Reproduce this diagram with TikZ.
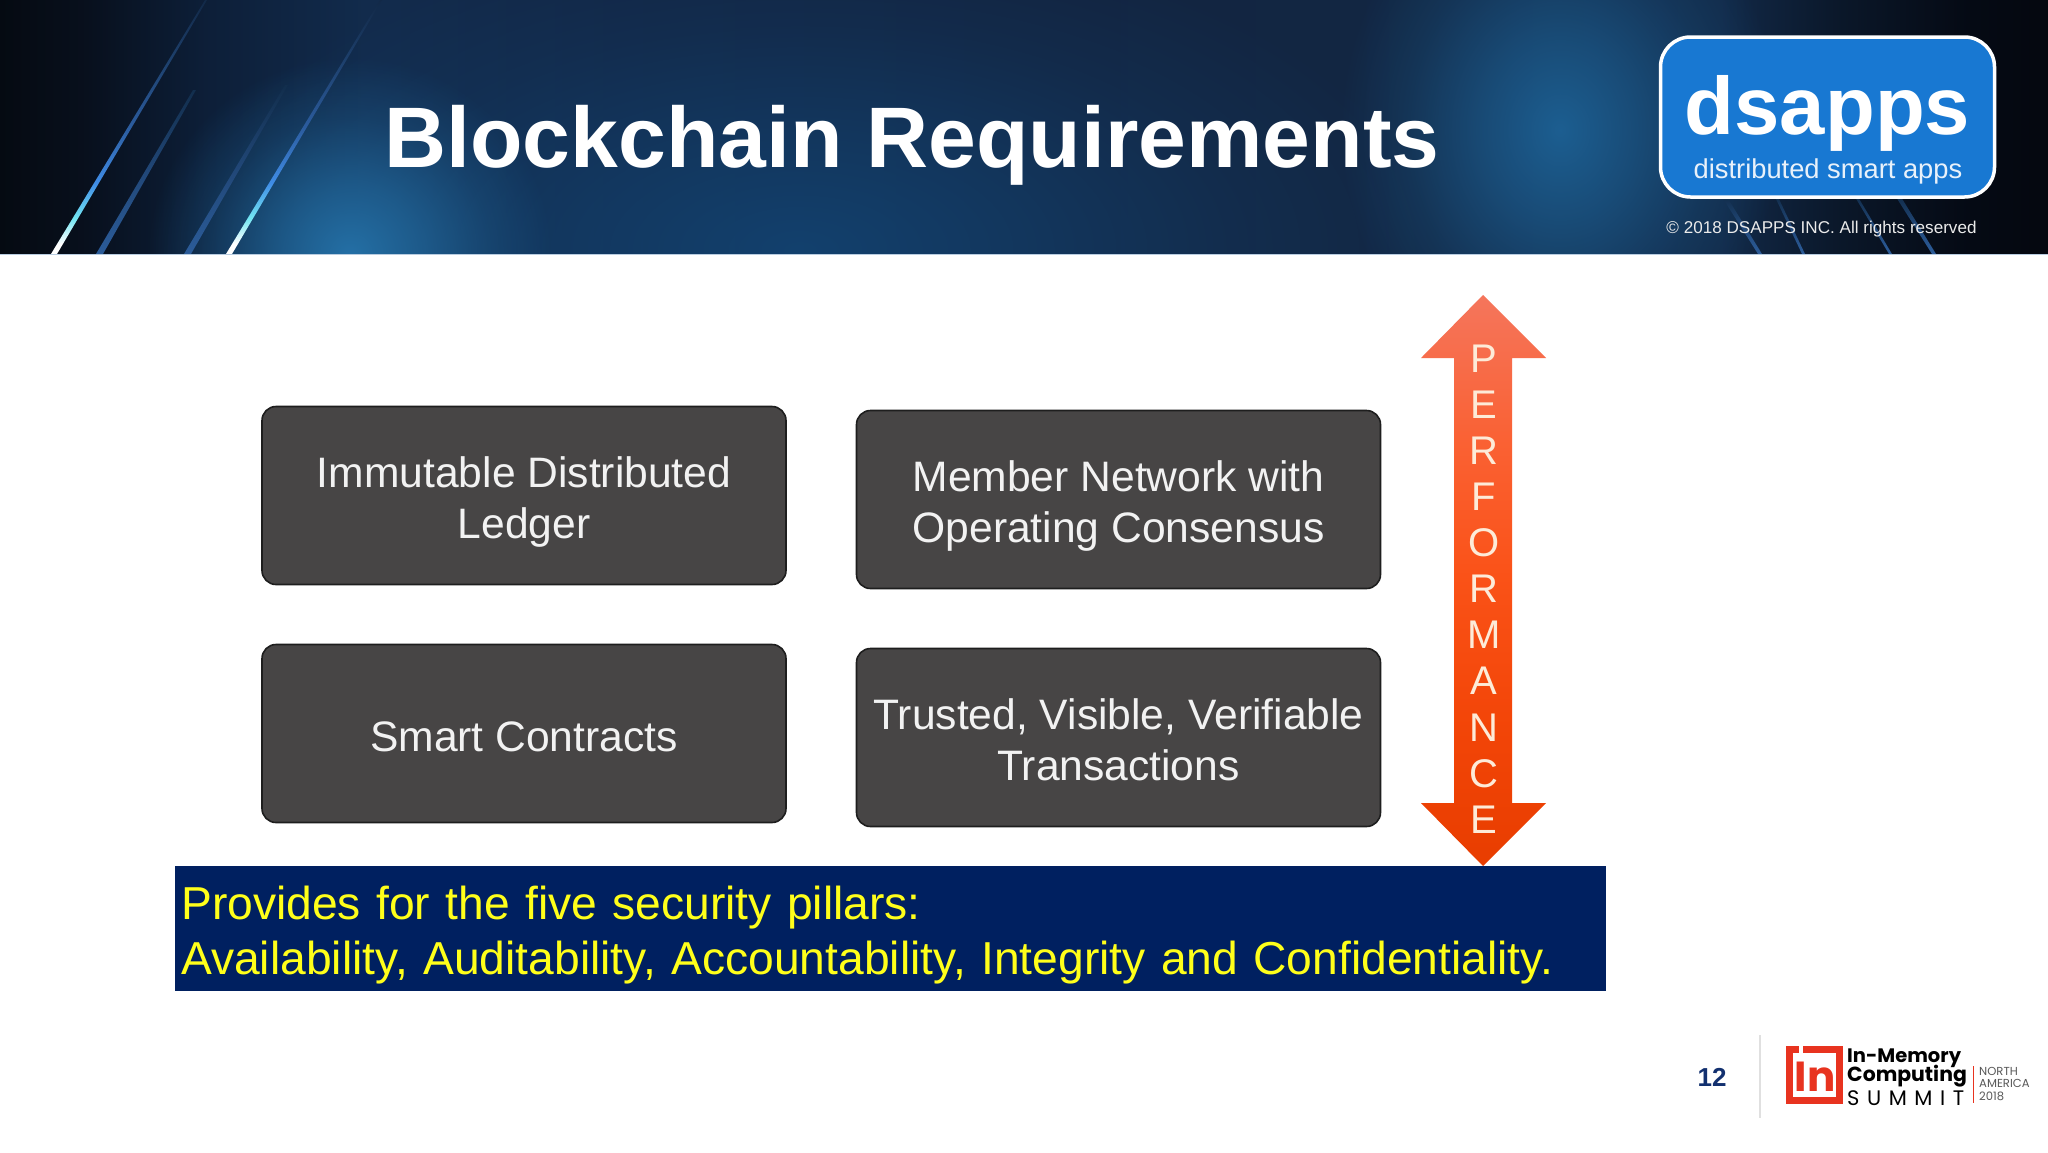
\documentclass[tikz,border=0pt]{standalone}
\usepackage{fontspec}
\usetikzlibrary{fadings,shadings}
\setmainfont{Liberation Sans}
\newfontfamily\popfont{Poppins}
\definecolor{boxfill}{HTML}{474545}
\definecolor{boxline}{HTML}{1E1E1E}
\definecolor{boxtext}{HTML}{F2F2F2}
\definecolor{bannerblue}{HTML}{002060}
\definecolor{banneryellow}{HTML}{FFFF1A}
\definecolor{logoblue}{HTML}{1878D2}
\definecolor{navy}{HTML}{12306F}
\definecolor{inred}{HTML}{E8331F}
\definecolor{glowa}{HTML}{2470A6}
\definecolor{glowb}{HTML}{1F6CA4}
\definecolor{glowc}{HTML}{124A7C}
\definecolor{hdrline}{HTML}{B8CCE0}
\definecolor{arrowtext}{HTML}{FDEBD8}
% the path's box is mapped on the central 25bp..75bp of a shading
\pgfdeclarehorizontalshading{hdrbasetwo}{100bp}{
 rgb(0bp)=(0.02,0.04,0.07);
 rgb(25bp)=(0.02,0.04,0.07);
 rgb(27bp)=(0.03,0.06,0.11);
 rgb(30bp)=(0.05,0.12,0.22);
 rgb(34bp)=(0.07,0.17,0.30);
 rgb(40bp)=(0.07,0.15,0.27);
 rgb(50bp)=(0.07,0.14,0.25);
 rgb(58bp)=(0.07,0.15,0.26);
 rgb(67bp)=(0.07,0.16,0.28);
 rgb(70bp)=(0.04,0.09,0.16);
 rgb(73bp)=(0.02,0.04,0.08);
 rgb(75bp)=(0.02,0.03,0.06);
 rgb(100bp)=(0.02,0.03,0.06)}
\pgfdeclareverticalshading{stripebright}{100bp}{
 rgb(0bp)=(1,1,1);
 rgb(27bp)=(1,1,1);
 rgb(32bp)=(0.45,0.9,0.95);
 rgb(39bp)=(0.25,0.55,0.9);
 rgb(50bp)=(0.17,0.36,0.62);
 rgb(62bp)=(0.12,0.26,0.44);
 rgb(75bp)=(0.07,0.16,0.28);
 rgb(100bp)=(0.07,0.16,0.28)}
\pgfdeclareverticalshading{stripedim}{100bp}{
 rgb(0bp)=(0.17,0.36,0.60);
 rgb(25bp)=(0.17,0.36,0.60);
 rgb(50bp)=(0.13,0.28,0.47);
 rgb(75bp)=(0.07,0.18,0.30);
 rgb(100bp)=(0.07,0.18,0.30)}
\pgfdeclareverticalshading{arrowgrad}{100bp}{
 rgb(0bp)=(0.91,0.24,0.0);
 rgb(25bp)=(0.91,0.24,0.0);
 rgb(37bp)=(0.95,0.27,0.03);
 rgb(50bp)=(0.98,0.32,0.09);
 rgb(62bp)=(0.98,0.38,0.20);
 rgb(75bp)=(0.96,0.46,0.36);
 rgb(100bp)=(0.96,0.46,0.36)}
\pgfdeclareradialshading{glowfadeshade}{\pgfpointorigin}{
 color(0bp)=(pgftransparent!0);
 color(8bp)=(pgftransparent!35);
 color(16bp)=(pgftransparent!75);
 color(23bp)=(pgftransparent!100);
 color(50bp)=(pgftransparent!100)}
\pgfdeclarefading{glowfade}{\pgfuseshading{glowfadeshade}}
\tikzset{
 x=1pt,y=-1pt,
 reqbox/.style={draw=boxline,line width=1.6pt,fill=boxfill,rounded corners=14pt,
   minimum width=524pt,minimum height=178pt,text=boxtext,align=center,inner sep=0pt,
   font=\fontsize{42.6}{51}\selectfont},
 banner/.style={fill=bannerblue,text=banneryellow,align=left,anchor=north west,
   minimum width=1431pt,minimum height=125pt,inner xsep=6pt,inner ysep=0pt,text width=1419pt,
   font=\fontsize{46.2}{55}\selectfont},
 stripe/.style={shading=#1,draw=none},
 flat/.style={inner sep=0pt,anchor=base}
}
\begin{document}
\begin{tikzpicture}
\useasboundingbox (0,0) rectangle (2048,1152);
\fill[white] (0,0) rectangle (2048,1152);
% header
\begin{scope}
\clip (0,0) rectangle (2048,254);
\shade[shading=hdrbasetwo] (0,0) rectangle (2048,254);
\fill[glowc,path fading=glowfade,opacity=.75] (100,-100) rectangle (1500,600);
\fill[glowa,path fading=glowfade] (130,40) rectangle (570,470);
\fill[glowb,path fading=glowfade,opacity=.8] (1320,-160) rectangle (1800,420);
\shade[stripe=stripedim] (96,254) -- (103,254) -- (196,90) -- (193,90) -- cycle;
\shade[stripe=stripedim] (184,254) -- (191,254) -- (288,85) -- (285,85) -- cycle;
\shade[stripe=stripebright] (51,254) -- (57,254) -- (207,0) -- (205,0) -- cycle;
\shade[stripe=stripebright] (226,254) -- (232,254) -- (382,0) -- (380,0) -- cycle;
\shade[stripe=stripedim] (1722,197) -- (1727,197) -- (1762,254) -- (1758,254) -- cycle;
\shade[stripe=stripedim] (1775,197) -- (1778,197) -- (1805,254) -- (1802,254) -- cycle;
\shade[stripe=stripedim] (1855,197) -- (1858,197) -- (1892,254) -- (1889,254) -- cycle;
\shade[stripe=stripedim] (1896,197) -- (1901,197) -- (1936,254) -- (1932,254) -- cycle;
\end{scope}
\fill[hdrline] (0,254) rectangle (2048,255);
\node[flat,text=white,font=\fontsize{85.9}{90}\bfseries\selectfont] (title) at (912,167) {Blockchain Requirements};
% logo
\node[draw=white,line width=3.5pt,fill=logoblue,rounded corners=30pt,minimum width=334pt,minimum height=160pt,inner sep=0pt] (logo) at (1827.5,117) {};
\node[flat,text=white,font=\fontsize{81.5}{85}\bfseries\selectfont] (dsapps) at (1827.5,134) {dsapps};
\node[flat,text=white!90!logoblue,font=\fontsize{27.3}{32}\selectfont] (dsub) at (1828,178) {distributed smart apps};
\node[flat,text=white!92!black,font=\fontsize{17.1}{20}\selectfont] (copy) at (1821.5,233) {© 2018 DSAPPS INC. All rights reserved};
% requirement boxes
\node[reqbox] (immutable) at (524,495.5) {\rule{0pt}{44pt}Immutable Distributed\\Ledger};
\node[reqbox] (member) at (1118.5,499.5) {\rule{0pt}{44pt}Member Network with\\Operating Consensus};
\node[reqbox] (smart) at (524,733.5) {\rule{0pt}{37pt}Smart Contracts};
\node[reqbox] (trusted) at (1118.5,737.5) {\rule{0pt}{44pt}Trusted, Visible, Verifiable\\Transactions\rule[-9pt]{0pt}{1pt}};
% banner
\node[banner] (pillars) at (175,866) {\rule{0pt}{47pt}Provides for the five security pillars:\\Availability, Auditability, Accountability, Integrity and Confidentiality.};
% arrow
\shade[shading=arrowgrad,draw=none]
 (1483,295) -- (1546,358) -- (1512,358) -- (1512,803) -- (1546,803) -- (1483,866) -- (1421,803) -- (1454,803) -- (1454,358) -- (1421,358) -- cycle;
\node[text=arrowtext,align=center,inner sep=0pt,font=\fontsize{40}{46.1}\selectfont,anchor=center] (perf) at (1484,589)
 {P\\E\\R\\F\\O\\R\\M\\A\\N\\C\\E};
% footer
\node[text=navy,inner sep=0pt,font=\fontsize{26}{28}\bfseries\selectfont] (pagenum) at (1712,1077) {12};
\coordinate (divtop) at (1760,1035);
\coordinate (divbot) at (1760,1118);
\draw[black!12,line width=1.5pt] (divtop) -- (divbot);
\fill[inred] (1786,1046) rectangle (1843,1104);
\fill[white] (1793,1053) rectangle (1836,1097);
\fill[white] (1799,1046) rectangle (1803,1053);
\node[flat,text=inred,font=\fontsize{42}{44}\bfseries\popfont\selectfont] (inmark) at (1815,1091) {In};
\node[inner sep=0pt,anchor=base west,text=black,font=\fontsize{19.5}{22}\popfont\selectfont] (ima) at (1847,1062) {\textbf{In-Memory}};
\node[inner sep=0pt,anchor=base west,text=black,font=\fontsize{20.4}{22}\popfont\selectfont] (imb) at (1847,1081) {\textbf{Computing}};
\node[inner sep=0pt,anchor=base west,text=black,font=\fontsize{21}{22}\popfont\selectfont] (imc) at (1847,1105) {\addfontfeature{LetterSpace=36}SUMMIT};
\coordinate (septop) at (1973,1066);
\coordinate (sepbot) at (1973,1103);
\draw[inred,line width=1pt] (septop) -- (sepbot);
\node[inner sep=0pt,anchor=north west,align=left,text=black!65,font=\fontsize{11.6}{12.6}\popfont\selectfont] (na) at (1979,1067) {NORTH\\AMERICA\\2018};
\end{tikzpicture}
\end{document}
